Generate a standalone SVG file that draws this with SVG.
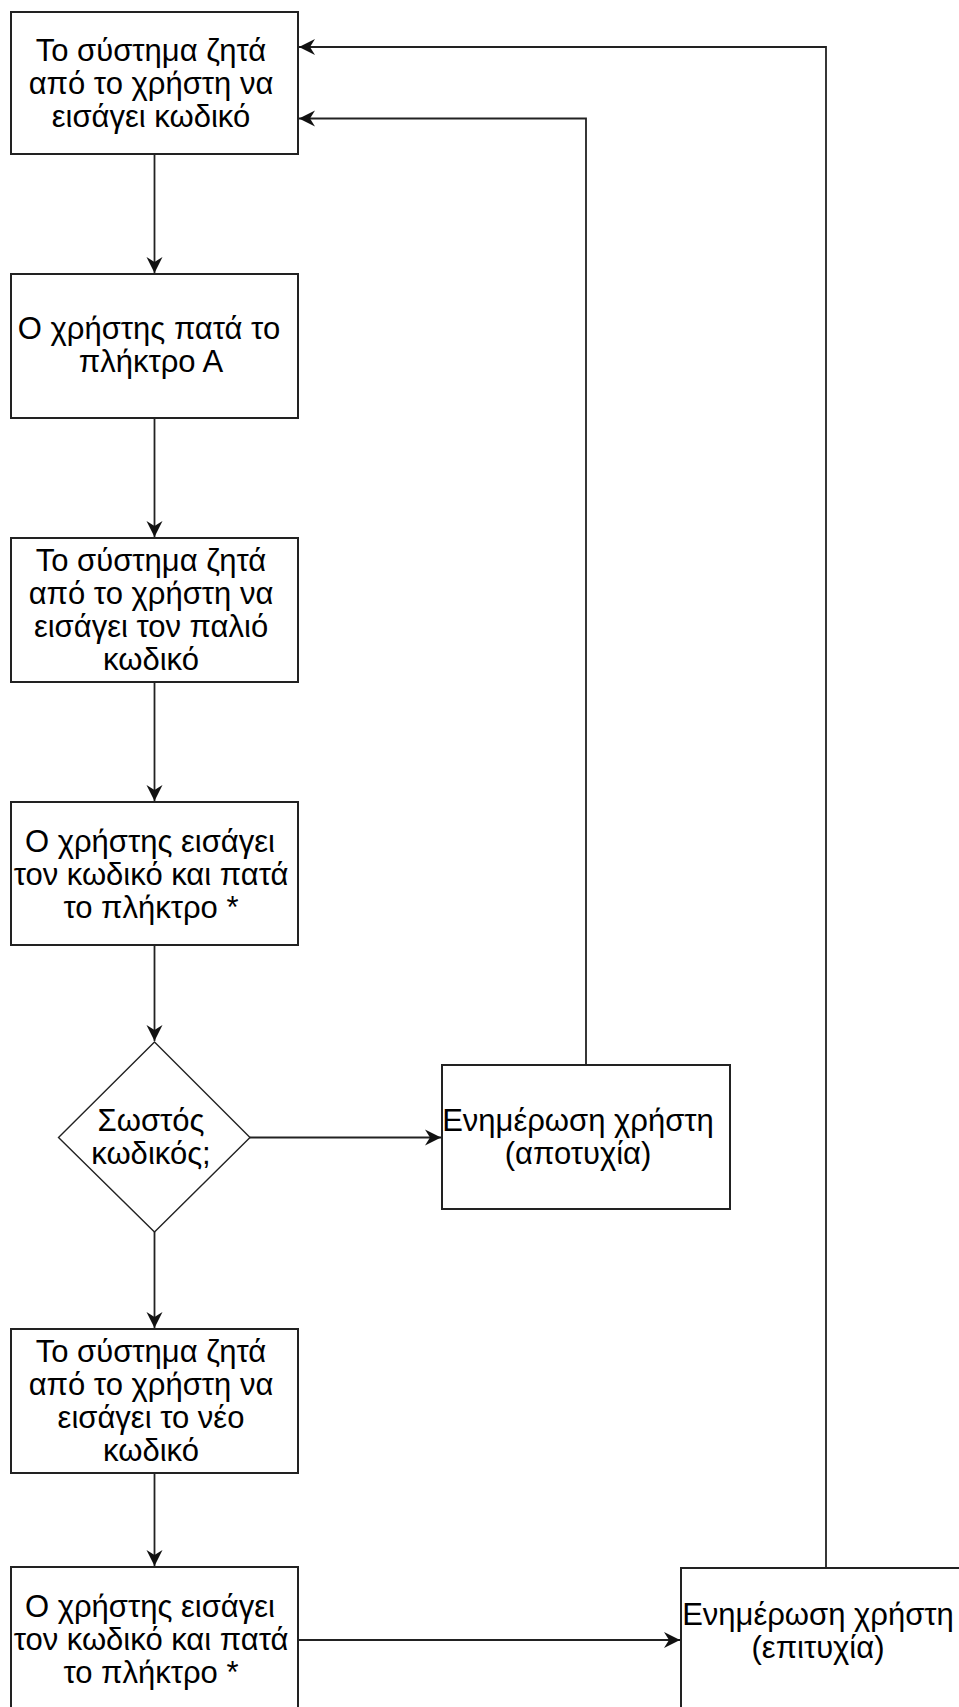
<svg xmlns="http://www.w3.org/2000/svg" width="959" height="1707" viewBox="0 0 959 1707">
<style>
.box{fill:#fff;stroke:#222;stroke-width:2}
.dia{fill:#fff;stroke:#222;stroke-width:1.4}
.t{font-family:"Liberation Sans",Arial,sans-serif;font-size:31px;fill:#000;text-anchor:middle}
.c{fill:none;stroke:#222;stroke-width:1.8}
</style>
<defs>
<marker id="ah" markerUnits="userSpaceOnUse" viewBox="-17 -9 18 18" refX="0" refY="0" markerWidth="18" markerHeight="18" orient="auto">
<path d="M0,0 L-16,-8 L-11,0 L-16,8 Z" fill="#111"/>
</marker>
</defs>
<rect width="959" height="1707" fill="#fff"/>
<g id="connectors">
<path class="c" d="M154.5,154 V273" marker-end="url(#ah)"/>
<path class="c" d="M154.5,418 V537" marker-end="url(#ah)"/>
<path class="c" d="M154.5,682 V801" marker-end="url(#ah)"/>
<path class="c" d="M154.5,945 V1041" marker-end="url(#ah)"/>
<path class="c" d="M154.5,1232 V1328" marker-end="url(#ah)"/>
<path class="c" d="M154.5,1473 V1566" marker-end="url(#ah)"/>
<path class="c" d="M250,1137.5 H441" marker-end="url(#ah)"/>
<path class="c" d="M299,1640 H680" marker-end="url(#ah)"/>
<path class="c" d="M586,1065 V118.5 H299" marker-end="url(#ah)"/>
<path class="c" d="M826,1568 V47 H299" marker-end="url(#ah)"/>
</g>
<g id="n1">
<rect class="box" x="11" y="12" width="287" height="142"/>
<text class="t" x="151" y="61">Το σύστημα ζητά</text>
<text class="t" x="151" y="94">από το χρήστη να</text>
<text class="t" x="151" y="127">εισάγει κωδικό</text>
</g>
<g id="n2">
<rect class="box" x="11" y="274" width="287" height="144"/>
<text class="t" x="149" y="339">Ο χρήστης πατά το</text>
<text class="t" x="151" y="372">πλήκτρο Α</text>
</g>
<g id="n3">
<rect class="box" x="11" y="538" width="287" height="144"/>
<text class="t" x="151" y="571">Το σύστημα ζητά</text>
<text class="t" x="151" y="604">από το χρήστη να</text>
<text class="t" x="151" y="637">εισάγει τον παλιό</text>
<text class="t" x="151" y="670">κωδικό</text>
</g>
<g id="n4">
<rect class="box" x="11" y="802" width="287" height="143"/>
<text class="t" x="150" y="852">Ο χρήστης εισάγει</text>
<text class="t" x="151" y="885">τον κωδικό και πατά</text>
<text class="t" x="151" y="918">το πλήκτρο *</text>
</g>
<g id="n5">
<polygon class="dia" points="154.5,1042 250,1137.5 154.5,1232 58.5,1137.5"/>
<text class="t" x="151" y="1131">Σωστός</text>
<text class="t" x="151" y="1164">κωδικός;</text>
</g>
<g id="n6">
<rect class="box" x="442" y="1065" width="288" height="144"/>
<text class="t" x="578" y="1131">Ενημέρωση χρήστη</text>
<text class="t" x="578" y="1164">(αποτυχία)</text>
</g>
<g id="n7">
<rect class="box" x="11" y="1329" width="287" height="144"/>
<text class="t" x="151" y="1362">Το σύστημα ζητά</text>
<text class="t" x="151" y="1395">από το χρήστη να</text>
<text class="t" x="151" y="1428">εισάγει το νέο</text>
<text class="t" x="151" y="1461">κωδικό</text>
</g>
<g id="n8">
<rect class="box" x="11" y="1567" width="287" height="146"/>
<text class="t" x="150" y="1617">Ο χρήστης εισάγει</text>
<text class="t" x="151" y="1650">τον κωδικό και πατά</text>
<text class="t" x="151" y="1683">το πλήκτρο *</text>
</g>
<g id="n9">
<rect class="box" x="681" y="1568" width="290" height="146"/>
<text class="t" x="818" y="1625">Ενημέρωση χρήστη</text>
<text class="t" x="818" y="1658">(επιτυχία)</text>
</g>
</svg>
